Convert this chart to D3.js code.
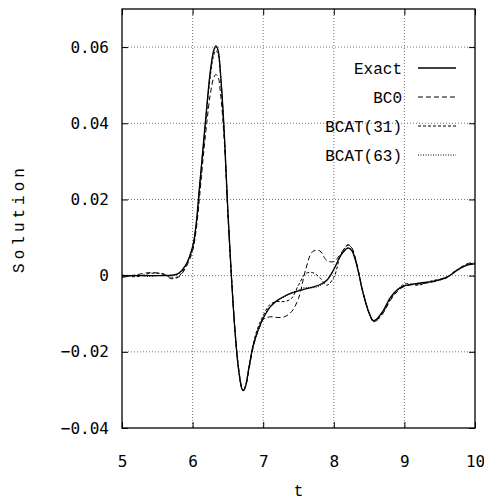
<!DOCTYPE html>
<html>
<head>
<meta charset="utf-8">
<script src="https://cdn.jsdelivr.net/npm/d3@7"></script>
<style>
  body { margin: 0; background: #fff; }
  svg { display: block; }
</style>
</head>
<body>
<div id="chart"></div>
<script>
// time grid shared by every series
const tValues = [5.0, 5.2, 5.4, 5.6, 5.7, 5.8, 5.9,
  6.0, 6.05, 6.1, 6.15, 6.2, 6.25, 6.3, 6.33, 6.36, 6.4, 6.45, 6.5, 6.55, 6.6, 6.65, 6.7, 6.72, 6.75, 6.8, 6.85, 6.9, 6.95,
  7.0, 7.1, 7.2, 7.3, 7.4, 7.5, 7.6, 7.7, 7.8, 7.9,
  8.0, 8.1, 8.2, 8.25, 8.3, 8.36, 8.4, 8.5, 8.56, 8.6, 8.7, 8.8, 8.9,
  9.0, 9.2, 9.4, 9.6, 9.7, 9.8, 9.9, 10.0];

const exact = [0, 0, 0, 0, 0.0001, 0.0006, 0.0027,
  0.0076, 0.0135, 0.0238, 0.034, 0.0442, 0.0535, 0.0592, 0.0603, 0.0592, 0.052, 0.037, 0.0168, -0.0003, -0.0145, -0.0245, -0.0298, -0.0302, -0.0290, -0.0240, -0.0190, -0.0158, -0.0133,
  -0.0112, -0.0082, -0.0065, -0.0054, -0.0046, -0.0040, -0.0035, -0.0030, -0.0024, -0.0012,
  0.0016, 0.0053, 0.0072, 0.0067, 0.0044, 0.0000, -0.0035, -0.0098, -0.0118, -0.0115, -0.0092, -0.0058, -0.0037,
  -0.0027, -0.0020, -0.0015, -0.0004, 0.0008, 0.0020, 0.0028, 0.0031];

const bc0 = [-0.0005, 0.0002, 0.0008, 0.0003, -0.0008, -0.0004, 0.0020,
  0.0065, 0.0120, 0.0210, 0.0310, 0.0400, 0.0475, 0.0520, 0.0528, 0.0522, 0.0470, 0.0350, 0.0160, 0.0000, -0.0140, -0.0240, -0.0295, -0.0300, -0.0292, -0.0245, -0.0195, -0.0160, -0.0135,
  -0.0115, -0.0108, -0.0110, -0.0108, -0.0095, -0.0060, 0.0015, 0.0063, 0.0065, 0.0040,
  0.0037, 0.0058, 0.0081, 0.0075, 0.0050, 0.0003, -0.0033, -0.0097, -0.0120, -0.0119, -0.0098, -0.0065, -0.0042,
  -0.0028, -0.0022, -0.0016, -0.0004, 0.0009, 0.0022, 0.0032, 0.0034];

const bcat31 = [0.0002, -0.0003, 0.0006, 0.0004, -0.0006, -0.0002, 0.0024,
  0.0072, 0.0130, 0.0230, 0.0332, 0.0432, 0.0522, 0.0580, 0.0591, 0.0582, 0.0512, 0.0365, 0.0166, -0.0002, -0.0143, -0.0243, -0.0297, -0.0301, -0.0289, -0.0238, -0.0188, -0.0150, -0.0125,
  -0.0105, -0.0075, -0.0068, -0.0068, -0.0060, -0.0025, 0.0005, 0.0008, -0.0005, -0.0025,
  -0.0005, 0.0055, 0.0080, 0.0074, 0.0048, 0.0002, -0.0034, -0.0099, -0.0121, -0.0118, -0.0096, -0.0062, -0.0040,
  -0.0022, -0.0025, -0.0013, -0.0006, 0.0010, 0.0021, 0.0030, 0.0033];

const bcat63 = [0, 0.0001, -0.0002, 0.0002, -0.0001, 0.0004, 0.0026,
  0.0075, 0.0134, 0.0236, 0.0338, 0.0440, 0.0532, 0.0589, 0.0600, 0.0590, 0.0518, 0.0368, 0.0167, -0.0003, -0.0144, -0.0244, -0.0297, -0.0301, -0.0289, -0.0239, -0.0189, -0.0156, -0.0131,
  -0.0110, -0.0080, -0.0066, -0.0056, -0.0045, -0.0038, -0.0031, -0.0032, -0.0027, -0.0014,
  0.0016, 0.0054, 0.0074, 0.0069, 0.0045, 0.0001, -0.0035, -0.0099, -0.0119, -0.0117, -0.0093, -0.0060, -0.0036,
  -0.0025, -0.0021, -0.0017, -0.0005, 0.0008, 0.0020, 0.0029, 0.0032];

const seriesNames = ["Exact", "BC0", "BCAT(31)", "BCAT(63)"];
const seriesValues = [exact, bc0, bcat31, bcat63];
const dashes = [null, "5,3", "3,2", "1,1.5"];

const xTicks = [5, 6, 7, 8, 9, 10];
const yTicks = [-0.04, -0.02, 0, 0.02, 0.04, 0.06];

// sizes
const W = 484, H = 501;
const margin = {top: 9, right: 9, bottom: 73, left: 122};
const width = W - margin.left - margin.right;
const height = H - margin.top - margin.bottom;

const svg = d3.select("#chart").append("svg")
    .attr("width", W)
    .attr("height", H);

const g = svg.append("g")
    .attr("transform", `translate(${margin.left},${margin.top})`);

const x = d3.scaleLinear().domain([5, 10]).range([0, width]);
const y = d3.scaleLinear().domain([-0.04, 0.07]).range([height, 0]);

// grid
g.append("g")
    .selectAll("line")
    .data(xTicks.filter(d => d > 5 && d < 10))
    .join("line")
    .attr("x1", d => x(d)).attr("x2", d => x(d))
    .attr("y1", 0).attr("y2", height)
    .attr("stroke", "#777").attr("stroke-width", 1)
    .attr("stroke-dasharray", "1,2");

g.append("g")
    .selectAll("line")
    .data(yTicks.filter(d => d > -0.04))
    .join("line")
    .attr("x1", 0).attr("x2", width)
    .attr("y1", d => y(d)).attr("y2", d => y(d))
    .attr("stroke", "#777").attr("stroke-width", 1)
    .attr("stroke-dasharray", "1,2");

// axes (inward ticks, mirrored)
const tickFont = "'DejaVu Sans Mono', monospace";
const xAxis = g.append("g")
    .attr("transform", `translate(0,${height})`)
    .call(d3.axisBottom(x).tickValues(xTicks).tickSize(-6).tickPadding(28).tickFormat(d3.format("d")));
const yAxis = g.append("g")
    .call(d3.axisLeft(y).tickValues(yTicks).tickSize(-6).tickPadding(13)
      .tickFormat(d => d === 0 ? "0" : d3.format(".2f")(d)));
g.append("g")
    .call(d3.axisTop(x).tickValues(xTicks).tickSize(-6).tickFormat(""));
g.append("g")
    .attr("transform", `translate(${width},0)`)
    .call(d3.axisRight(y).tickValues(yTicks).tickSize(-6).tickFormat(""));

g.selectAll(".domain").remove();
g.selectAll(".tick line").attr("stroke", "#000");
g.selectAll(".tick text")
    .attr("font-family", tickFont)
    .attr("font-size", 16)
    .attr("fill", "#000");

g.append("rect")
    .attr("width", width).attr("height", height)
    .attr("fill", "none").attr("stroke", "#000").attr("stroke-width", 1.3);

// curves
const line = d3.line()
    .x((d, i) => x(tValues[i]))
    .y(d => y(d))
    .curve(d3.curveCatmullRom.alpha(0.5));

seriesValues.forEach((vals, k) => {
  g.append("path")
      .datum(vals)
      .attr("d", line)
      .attr("fill", "none")
      .attr("stroke", "#000")
      .attr("stroke-width", k === 0 ? 1.3 : 1)
      .attr("stroke-dasharray", dashes[k]);
});

// legend
const legFont = "'Liberation Mono', 'Courier New', monospace";
const leg = g.append("g");
seriesNames.forEach((name, k) => {
  const ly = 59 + k * 29;
  leg.append("text")
      .attr("x", 280).attr("y", ly)
      .attr("dy", "0.35em")
      .attr("text-anchor", "end")
      .attr("font-family", legFont)
      .attr("font-size", 16)
      .text(name);
  leg.append("line")
      .attr("x1", 296).attr("x2", 334)
      .attr("y1", ly).attr("y2", ly)
      .attr("stroke", "#000")
      .attr("stroke-width", k === 0 ? 1.3 : 1)
      .attr("stroke-dasharray", dashes[k]);
});

// axis labels
svg.append("text")
    .attr("x", margin.left + width / 2)
    .attr("y", 496)
    .attr("text-anchor", "middle")
    .attr("font-family", legFont)
    .attr("font-size", 16)
    .text("t");

svg.append("text")
    .attr("transform", `translate(24,${margin.top + height / 2}) rotate(-90)`)
    .attr("text-anchor", "middle")
    .attr("font-family", legFont)
    .attr("font-size", 16)
    .attr("letter-spacing", 4)
    .text("Solution");
</script>
</body>
</html>
